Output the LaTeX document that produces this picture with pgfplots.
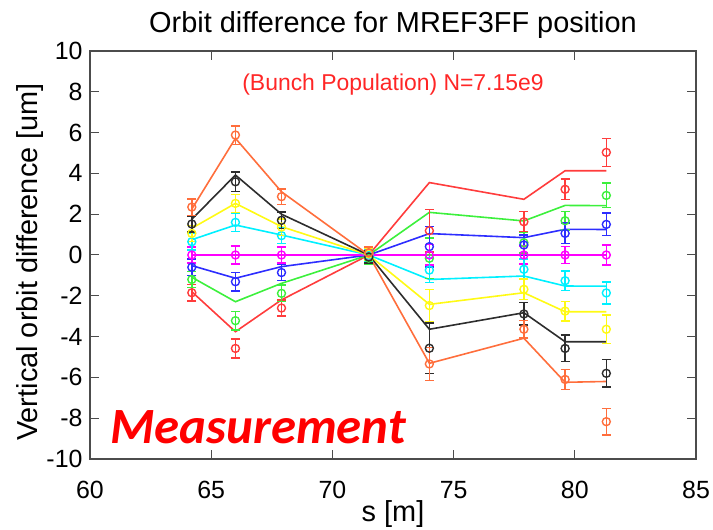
\documentclass[border=0pt]{standalone}
\usepackage{pgfplots}
\pgfplotsset{compat=1.18}
\usepackage{fontspec}
\setmainfont{Liberation Sans}
\newfontfamily\carlito{Carlito}

\definecolor{cRed}{RGB}{255,60,60}
\definecolor{cGreen}{RGB}{60,240,60}
\definecolor{cBlue}{RGB}{45,45,255}
\definecolor{cMag}{RGB}{255,0,255}
\definecolor{cCyan}{RGB}{0,240,255}
\definecolor{cYel}{RGB}{255,250,20}
\definecolor{cBlk}{RGB}{45,45,45}
\definecolor{cOra}{RGB}{255,110,60}

% simulated orbit difference (line)
\newcommand\simline[2]{\addplot[color=#1, line width=1.6bp, mark=none] coordinates {#2};}
% measured orbit difference with error bars
\newcommand\meas[2]{\addplot[color=#1, only marks, mark=o,
    mark size=4bp, mark options={line width=1.4bp},
    error bars/.cd, y dir=both, y explicit,
    error bar style={line width=1.4bp},
    error mark options={rotate=90, mark size=4.5bp, line width=1.4bp}] coordinates {#2};}

\begin{document}
\begin{tikzpicture}
\useasboundingbox (-90bp,-71bp) rectangle (623bp,459bp);
\begin{axis}[
  at={(0,0)}, anchor=south west,
  scale only axis, width=606bp, height=408bp,
  xmin=60, xmax=85, ymin=-10, ymax=10,
  xtick={60,65,70,75,80,85}, ytick={-10,-8,-6,-4,-2,0,2,4,6,8,10},
  tick align=inside, major tick length=9bp,
  tick style={line width=1bp, color=black!70},
  axis line style={line width=1.2bp, color=black!70},
  ticklabel style={font=\fontsize{25}{25}\selectfont},
  /pgf/number format/assume math mode=true,
  xticklabel style={yshift=-19bp},
  yticklabel style={xshift=-4bp},
  clip=false,
]
\simline{cRed}{(64.2,-1.8) (66.0,-3.76) (67.9,-2.2) (71.5,0) (74.0,3.55) (77.9,2.73) (79.6,4.13) (81.3,4.13)}
\simline{cGreen}{(64.2,-1.09) (66.0,-2.29) (67.9,-1.39) (71.5,0) (74.0,2.09) (77.9,1.67) (79.6,2.43) (81.3,2.42)}
\simline{cBlue}{(64.2,-0.52) (66.0,-1.14) (67.9,-0.57) (71.5,0) (74.0,1.05) (77.9,0.85) (79.6,1.26) (81.3,1.25)}
\simline{cMag}{(64.2,0) (66.0,0) (67.9,0) (71.5,0) (74.0,0) (77.9,0) (79.6,0) (81.3,0)}
\simline{cCyan}{(64.2,0.75) (66.0,1.47) (67.9,0.98) (71.5,0) (74.0,-1.2) (77.9,-1.03) (79.6,-1.52) (81.3,-1.53)}
\simline{cYel}{(64.2,1.31) (66.0,2.53) (67.9,1.39) (71.5,0) (74.0,-2.42) (77.9,-1.85) (79.6,-2.78) (81.3,-2.78)}
\simline{cBlk}{(64.2,1.75) (66.0,3.92) (67.9,2.0) (71.5,0) (74.0,-3.64) (77.9,-2.83) (79.6,-4.25) (81.3,-4.25)}
\simline{cOra}{(64.2,2.25) (66.0,5.72) (67.9,3.1) (71.5,0) (74.0,-5.31) (77.9,-4.08) (79.6,-6.24) (81.3,-6.2)}

\meas{cRed}{(64.2,-1.85) +- (0,0.4) (66.0,-4.58) +- (0,0.47) (67.9,-2.6) +- (0,0.4) (71.5,0.1) +- (0,0.3) (74.0,1.19) +- (0,1.05) (77.9,1.63) +- (0,0.49) (79.6,3.22) +- (0,0.5) (81.3,5.03) +- (0,0.68)}
\meas{cGreen}{(64.2,-1.2) +- (0,0.4) (66.0,-3.22) +- (0,0.45) (67.9,-1.88) +- (0,0.4) (71.5,-0.15) +- (0,0.3) (74.0,-0.16) +- (0,1.0) (77.9,0.6) +- (0,0.5) (79.6,1.68) +- (0,0.45) (81.3,2.92) +- (0,0.6)}
\meas{cBlue}{(64.2,-0.6) +- (0,0.4) (66.0,-1.31) +- (0,0.45) (67.9,-0.86) +- (0,0.4) (71.5,0) +- (0,0.3) (74.0,0.41) +- (0,1.0) (77.9,0.49) +- (0,0.5) (79.6,1.06) +- (0,0.5) (81.3,1.5) +- (0,0.55)}
\meas{cMag}{(64.2,0) +- (0,0.4) (66.0,0) +- (0,0.45) (67.9,0) +- (0,0.4) (71.5,0) +- (0,0.3) (74.0,0) +- (0,0.5) (77.9,0) +- (0,0.45) (79.6,0) +- (0,0.41) (81.3,0) +- (0,0.49)}
\meas{cCyan}{(64.2,0.65) +- (0,0.4) (66.0,1.6) +- (0,0.45) (67.9,0.95) +- (0,0.4) (71.5,0) +- (0,0.3) (74.0,-0.74) +- (0,0.6) (77.9,-0.7) +- (0,0.5) (79.6,-1.26) +- (0,0.47) (81.3,-1.86) +- (0,0.54)}
\meas{cYel}{(64.2,1.06) +- (0,0.4) (66.0,2.53) +- (0,0.45) (67.9,1.37) +- (0,0.4) (71.5,0.05) +- (0,0.3) (74.0,-2.48) +- (0,0.8) (77.9,-1.68) +- (0,0.5) (79.6,-2.75) +- (0,0.48) (81.3,-3.64) +- (0,0.69)}
\meas{cBlk}{(64.2,1.52) +- (0,0.4) (66.0,3.59) +- (0,0.47) (67.9,1.7) +- (0,0.4) (71.5,-0.1) +- (0,0.3) (74.0,-4.57) +- (0,1.24) (77.9,-2.89) +- (0,0.55) (79.6,-4.58) +- (0,0.65) (81.3,-5.8) +- (0,0.68)}
\meas{cOra}{(64.2,2.35) +- (0,0.4) (66.0,5.88) +- (0,0.45) (67.9,2.86) +- (0,0.38) (71.5,0.1) +- (0,0.3) (74.0,-5.34) +- (0,0.82) (77.9,-3.64) +- (0,0.43) (79.6,-6.1) +- (0,0.5) (81.3,-8.17) +- (0,0.65)}
\end{axis}
% titles and labels
\node[anchor=base, font=\fontsize{29}{29}\selectfont] at (303bp,426bp) {Orbit difference for MREF3FF position};
\node[anchor=base, font=\fontsize{29}{29}\selectfont] at (303bp,-62bp) {s [m]};
\node[anchor=base, rotate=90, font=\fontsize{29}{29}\selectfont] at (-52bp,197bp) {Vertical orbit difference [um]};
\node[anchor=base, text=red!85!white, font=\fontsize{23}{23}\selectfont] at (303bp,368bp) {(Bunch Population) N=7.15e9};
\node[anchor=base west, inner sep=0pt, text=red, font=\carlito\bfseries\itshape\fontsize{51}{51}\selectfont] at (20bp,16bp) {Measurement};
\end{tikzpicture}
\end{document}
